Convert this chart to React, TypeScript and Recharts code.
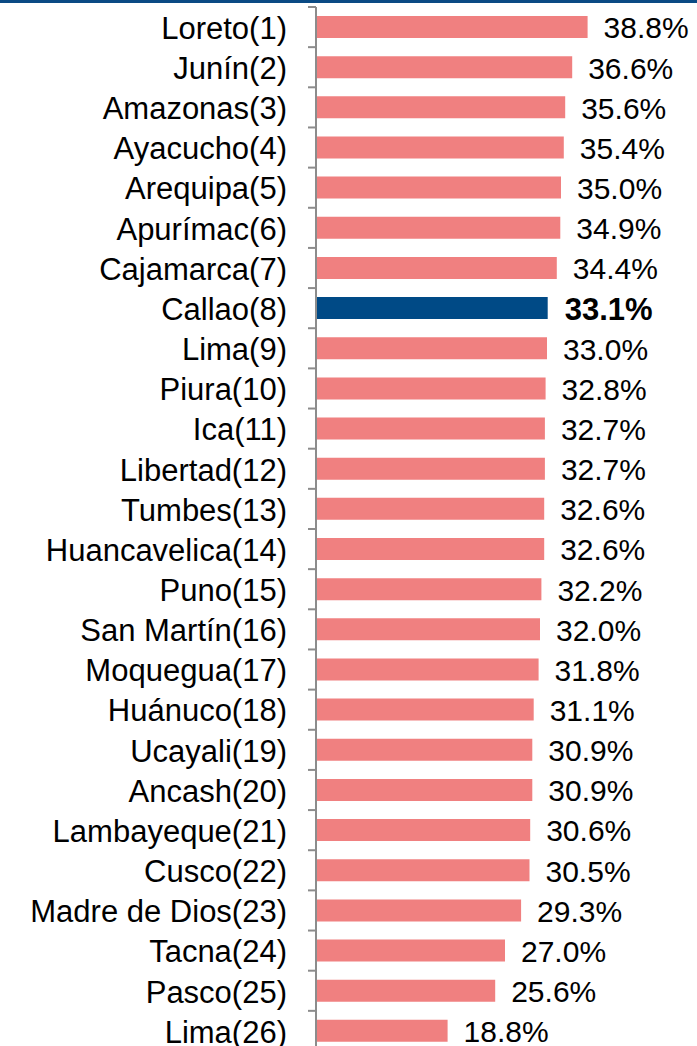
import { Bar, BarChart, Cell, LabelList, XAxis, YAxis } from 'recharts';

const regions = [
    'Loreto(1)', 'Junín(2)', 'Amazonas(3)', 'Ayacucho(4)', 'Arequipa(5)', 'Apurímac(6)',
    'Cajamarca(7)', 'Callao(8)', 'Lima(9)', 'Piura(10)', 'Ica(11)', 'Libertad(12)',
    'Tumbes(13)', 'Huancavelica(14)', 'Puno(15)', 'San Martín(16)', 'Moquegua(17)',
    'Huánuco(18)', 'Ucayali(19)', 'Ancash(20)', 'Lambayeque(21)', 'Cusco(22)',
    'Madre de Dios(23)', 'Tacna(24)', 'Pasco(25)', 'Lima(26)',
];

const values = [
    38.8, 36.6, 35.6, 35.4, 35.0, 34.9, 34.4, 33.1, 33.0, 32.8, 32.7, 32.7, 32.6,
    32.6, 32.2, 32.0, 31.8, 31.1, 30.9, 30.9, 30.6, 30.5, 29.3, 27.0, 25.6, 18.8,
];

const highlight = 'Callao(8)';

const data = regions.map((name, i) => ({ name, value: values[i] }));

const FONT = '"Liberation Sans", Arial, sans-serif';

function RegionTick(props: any) {
    const { x, y, payload } = props;
    const half = payload?.offset ?? 20;
    return (
        <g>
            <line x1={x - 8} x2={x} y1={y - half} y2={y - half} stroke="#8c8c8c" strokeWidth={2} />
            <text
                x={x - 29}
                y={y}
                dy="0.38em"
                textAnchor="end"
                fontFamily={FONT}
                fontSize={31}
                fill="#000"
            >
                {payload.value}
            </text>
        </g>
    );
}

function ValueLabel(props: any) {
    const { x, y, width, height, value, index } = props;
    const bold = regions[index] === highlight;
    return (
        <text
            x={x + width + (bold ? 17 : 16)}
            y={y + height / 2}
            dy="0.38em"
            textAnchor="start"
            fontFamily={FONT}
            fontSize={bold ? 31 : 30}
            fontWeight={bold ? 'bold' : 'normal'}
            fill="#000"
        >
            {Number(value).toFixed(1)}%
        </text>
    );
}

export default function App() {
    return (
        <div
            style={{
                position: 'absolute',
                left: 0,
                top: 0,
                width: 697,
                height: 1046,
                overflow: 'hidden',
                background: '#fff',
            }}
        >
            <div
                style={{
                    position: 'absolute',
                    left: 0,
                    top: 0,
                    width: 697,
                    height: 3,
                    background: '#0a4a84',
                }}
            />
            <BarChart
                width={697}
                height={1060}
                data={data}
                layout="vertical"
                margin={{ top: 7, right: 31, left: 0, bottom: 9 }}
            >
                <XAxis type="number" domain={[0, 50]} hide />
                <YAxis
                    type="category"
                    dataKey="name"
                    width={316}
                    interval={0}
                    tickSize={0}
                    tickMargin={0}
                    tickLine={false}
                    axisLine={{ stroke: '#8c8c8c', strokeWidth: 2 }}
                    tick={<RegionTick />}
                />
                <Bar dataKey="value" barSize={22} isAnimationActive={false}>
                    {data.map((d) => (
                        <Cell key={d.name} fill={d.name === highlight ? '#004a86' : '#f08080'} />
                    ))}
                    <LabelList dataKey="value" content={<ValueLabel />} />
                </Bar>
            </BarChart>
        </div>
    );
}
